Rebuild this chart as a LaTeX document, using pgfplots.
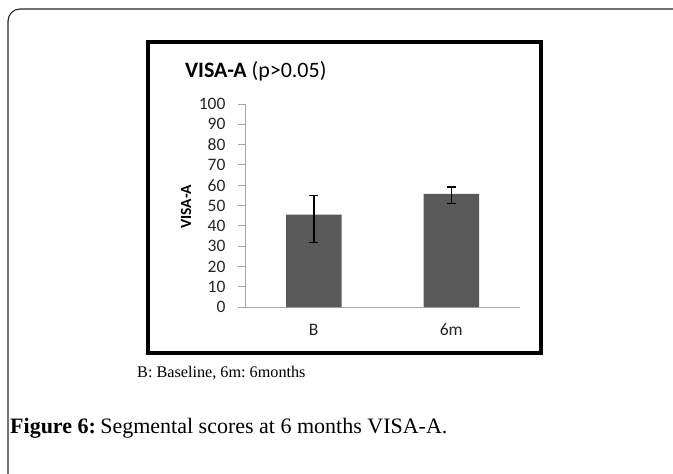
\documentclass[border=0pt]{standalone}
\usepackage{fontspec}
\setmainfont{Carlito}
\newfontfamily\serif{Liberation Serif}
\usepackage{pgfplots}
\pgfplotsset{compat=1.18}
\definecolor{barc}{HTML}{595959}
\definecolor{axc}{HTML}{A6A6A6}
\frenchspacing
\begin{document}
\begin{tikzpicture}[x=1pt,y=1pt]
\path[use as bounding box] (0,0) rectangle (673,-474);
\draw[line width=1.1pt,black!85] (8,-474) -- (8,-21) arc[start angle=180,end angle=90,radius=12] -- (673,-9);
\draw[line width=3.6pt] (148,-42) rectangle (541,-353);
\node[anchor=base west,inner sep=0pt,font=\fontsize{22}{24}\selectfont] at (185,-77) {\textbf{VISA-A} (p>0.05)};
\node[rotate=90,inner sep=0pt,font=\fontsize{15.5}{17}\selectfont\bfseries] at (186,-207) {VISA-A};
\begin{axis}[
  at={(245pt,-307pt)}, anchor=south west,
  scale only axis, width=275pt, height=203pt,
  xmin=-0.5, xmax=1.5, ymin=0, ymax=100,
  axis x line=bottom, axis y line=left,
  axis line style={draw=axc,line width=0.9pt,-},
  ytick={0,10,...,100},
  xtick={0,1}, xticklabels={B,6m},
  x tick style={draw=none},
  y tick style={draw=axc,line width=0.9pt},
  tick align=outside, major tick length=7pt,
  tick label style={font=\fontsize{17.5}{19}\selectfont, text=black!85},
  yticklabel style={xshift=-9pt},
  x tick label style={text height=12pt, text depth=4pt, yshift=-6pt},
  /pgf/number format/assume math mode=true,
  clip=false,
]
\addplot[ybar, bar width=55.5pt, fill=barc, draw=none,
  error bars/.cd, y dir=both, y explicit,
  error bar style={black,line width=1.5pt},
  error mark options={rotate=90,mark size=4.5pt,black,line width=1.5pt}]
  coordinates {
  (0,45.5) += (0,9.5) -= (0,13.8)
  (1,55.7) += (0,3.3) -= (0,4.8)
  };
\end{axis}
\node[anchor=base west,inner sep=0pt,font=\serif\fontsize{16.2}{18}\selectfont] at (137,-377) {B: Baseline, 6m: 6months};
\node[anchor=base west,inner sep=0pt,font=\serif\fontsize{22}{24}\selectfont] at (10,-433) {\textbf{Figure 6:}\hspace{0.2em}Segmental scores at 6 months VISA-A.};
\end{tikzpicture}
\end{document}
